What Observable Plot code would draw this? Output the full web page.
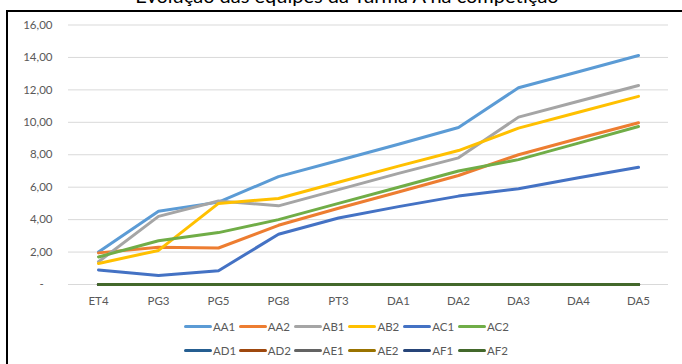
<!DOCTYPE html>
<html>
<head>
<meta charset="utf-8">
<script src="https://cdn.jsdelivr.net/npm/d3@7"></script>
<script src="https://cdn.jsdelivr.net/npm/@observablehq/plot@0.6"></script>
<style>
  html, body { margin: 0; padding: 0; background: #fff; overflow: hidden; }
  #wrap { position: relative; width: 682px; height: 364px; overflow: hidden; font-family: Lato, "Open Sans", sans-serif; }
  #frame { position: absolute; left: 6px; top: 10px; width: 720px; height: 400px; border-left: 2px solid #000; border-top: 2px solid #000; }
  #title { position: absolute; left: 0; width: 694px; top: -17px; text-align: center; font-size: 20px; color: #000; white-space: nowrap; }
  #chart { position: absolute; left: 0; top: 0; }
  #legend { position: absolute; left: 184px; top: 314px; font-size: 11.5px; color: #595959; }
  .row { display: flex; height: 24px; align-items: center; }
  .item { display: flex; align-items: center; width: 54.8px; }
  .sw { width: 28px; height: 3px; border-radius: 1.5px; margin-right: 1px; }
</style>
</head>
<body>
<div id="wrap">
  <div id="frame"></div>
  <div id="title">Evolução das equipes da Turma A na competição</div>
  <div id="chart"></div>
  <div id="legend"></div>
</div>
<script>
const title = "Evolução das equipes da Turma A na competição";
const stages = ["ET4", "PG3", "PG5", "PG8", "PT3", "DA1", "DA2", "DA3", "DA4", "DA5"];
const series = ["AA1", "AA2", "AB1", "AB2", "AC1", "AC2", "AD1", "AD2", "AE1", "AE2", "AF1", "AF2"];
const colors = ["#5B9BD5", "#ED7D31", "#A5A5A5", "#FFC000", "#4472C4", "#70AD47",
                "#255E91", "#9E480E", "#636363", "#997300", "#264478", "#43682B"];
const AA1 = [2.00, 4.52, 5.08, 6.65, 7.65, 8.65, 9.68, 12.13, 13.12, 14.12];
const AA2 = [1.95, 2.30, 2.25, 3.65, 4.70, 5.70, 6.72, 8.00, 9.00, 9.97];
const AB1 = [1.40, 4.20, 5.15, 4.85, 5.85, 6.85, 7.81, 10.32, 11.30, 12.27];
const AB2 = [1.30, 2.10, 5.00, 5.30, 6.30, 7.30, 8.26, 9.64, 10.62, 11.60];
const AC1 = [0.90, 0.55, 0.85, 3.10, 4.10, 4.80, 5.45, 5.90, 6.58, 7.23];
const AC2 = [1.70, 2.70, 3.20, 4.00, 5.00, 6.00, 7.00, 7.70, 8.72, 9.74];
const AD1 = [0, 0, 0, 0, 0, 0, 0, 0, 0, 0];
const AD2 = [0, 0, 0, 0, 0, 0, 0, 0, 0, 0];
const AE1 = [0, 0, 0, 0, 0, 0, 0, 0, 0, 0];
const AE2 = [0, 0, 0, 0, 0, 0, 0, 0, 0, 0];
const AF1 = [0, 0, 0, 0, 0, 0, 0, 0, 0, 0];
const AF2 = [0, 0, 0, 0, 0, 0, 0, 0, 0, 0];
const yTicks = [0, 2, 4, 6, 8, 10, 12, 14, 16];

const values = [AA1, AA2, AB1, AB2, AC1, AC2, AD1, AD2, AE1, AE2, AF1, AF2];
const data = [];
series.forEach((s, i) => stages.forEach((st, j) => data.push({series: s, stage: st, value: values[i][j]})));

const fmt = d => d === 0 ? "-\u00a0\u00a0\u00a0" : d.toFixed(2).replace(".", ",");

const chart = Plot.plot({
  width: 682,
  height: 310,
  marginLeft: 68,
  marginRight: 14,
  marginTop: 24.5,
  marginBottom: 26,
  style: {fontFamily: "Lato, 'Open Sans', sans-serif", background: "transparent"},
  x: {type: "point", domain: stages, padding: 0.5},
  y: {domain: [0, 16]},
  color: {domain: series, range: colors},
  marks: [
    Plot.ruleY(yTicks, {stroke: "#D9D9D9", strokeWidth: 1}),
    Plot.axisY({ticks: yTicks, tickFormat: fmt, tickSize: 0, tickPadding: 16, fontSize: 11.5, fill: "#595959", label: null}),
    Plot.axisX({tickSize: 0, tickPadding: 12, fontSize: 11.5, fill: "#595959", label: null}),
    Plot.line(data, {x: "stage", y: "value", z: "series", stroke: "series", strokeWidth: 3, strokeLinecap: "round", strokeLinejoin: "round"})
  ]
});
document.getElementById("chart").appendChild(chart);

const legend = document.getElementById("legend");
[series.slice(0, 6), series.slice(6)].forEach(rowSeries => {
  const row = document.createElement("div");
  row.className = "row";
  rowSeries.forEach(s => {
    const item = document.createElement("div");
    item.className = "item";
    const sw = document.createElement("div");
    sw.className = "sw";
    sw.style.background = colors[series.indexOf(s)];
    const lab = document.createElement("span");
    lab.textContent = s;
    item.appendChild(sw);
    item.appendChild(lab);
    row.appendChild(item);
  });
  legend.appendChild(row);
});
</script>
</body>
</html>
